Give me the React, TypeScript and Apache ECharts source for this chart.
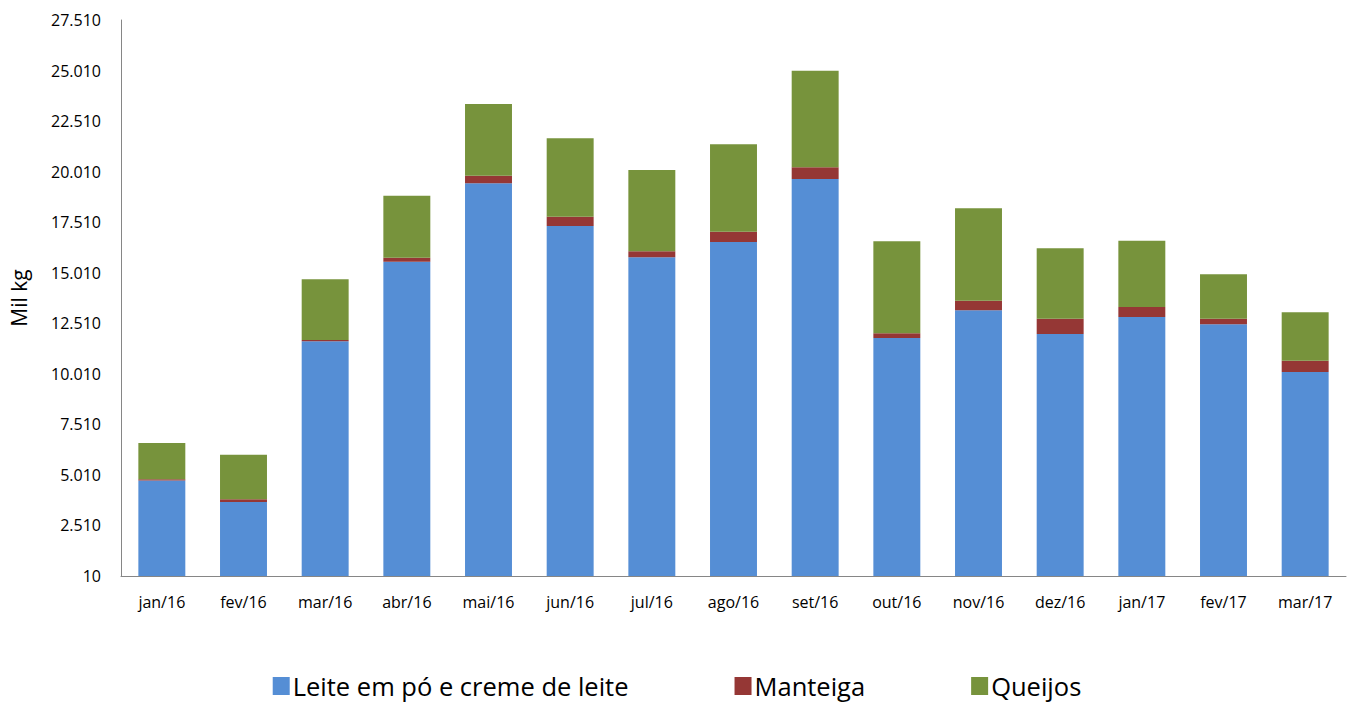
import React, { useEffect, useRef } from "react";
import * as echarts from "echarts";

const categories = ["jan/16", "fev/16", "mar/16", "abr/16", "mai/16", "jun/16", "jul/16", "ago/16", "set/16", "out/16", "nov/16", "dez/16", "jan/17", "fev/17", "mar/17"];
const leite = [4733, 3670, 11618, 15555, 19433, 17321, 15773, 16530, 19646, 11781, 13152, 11979, 12820, 12459, 10100];
const manteiga = [60, 134, 65, 198, 376, 455, 297, 509, 578, 233, 474, 757, 495, 277, 559];
const queijos = [1795, 2206, 3002, 3067, 3546, 3883, 4021, 4323, 4779, 4550, 4570, 3482, 3279, 2196, 2394];
const seriesNames = ["Leite em pó e creme de leite", "Manteiga", "Queijos"];
const colors = ["#558ED5", "#953735", "#77933C"];

const fmt = (v: number) => {
  const s = String(Math.round(v));
  return s.replace(/\B(?=(\d{3})+(?!\d))/g, ".");
};

export default function App() {
  const ref = useRef<HTMLDivElement>(null);
  useEffect(() => {
    if (!ref.current) return;
    const chart = echarts.init(ref.current, null, { renderer: "svg" });
    const font = "'Open Sans', 'Noto Sans', sans-serif";
    const data = [leite, manteiga, queijos];
    chart.setOption({
      animation: false,
      textStyle: { fontFamily: font },
      grid: { left: 121, right: 8, top: 20, bottom: 129, containLabel: false },
      legend: {
        bottom: 1,
        left: "center",
        itemWidth: 17,
        itemHeight: 18,
        itemGap: 106,
        icon: "rect",
        textStyle: { fontSize: 25.5, color: "#000", fontFamily: font, padding: [0, 0, 0, -2] },
        data: seriesNames,
      },
      xAxis: {
        type: "category",
        data: categories,
        axisLine: { lineStyle: { color: "#868686", width: 1 } },
        axisTick: { show: false },
        axisLabel: { color: "#000", fontSize: 16, margin: 18, fontFamily: font },
      },
      yAxis: {
        type: "value",
        min: 10,
        max: 27510,
        interval: 2500,
        name: "Mil kg",
        nameLocation: "middle",
        nameGap: 92,
        nameTextStyle: { fontSize: 21, color: "#000", fontFamily: font },
        axisLine: { show: true, lineStyle: { color: "#868686", width: 1 } },
        axisTick: { show: false },
        splitLine: { show: false },
        axisLabel: { color: "#000", fontSize: 16, margin: 20, fontFamily: font, formatter: (v: number) => fmt(v) },
      },
      series: seriesNames.map((name, i) => ({
        name,
        type: "bar",
        stack: "total",
        barWidth: "57.5%",
        data: data[i],
        itemStyle: { color: colors[i] },
      })),
    });
    return () => chart.dispose();
  }, []);
  return <div ref={ref} style={{ position: "fixed", left: 0, top: 0, width: 1354, height: 705, background: "#fff" }} />;
}
